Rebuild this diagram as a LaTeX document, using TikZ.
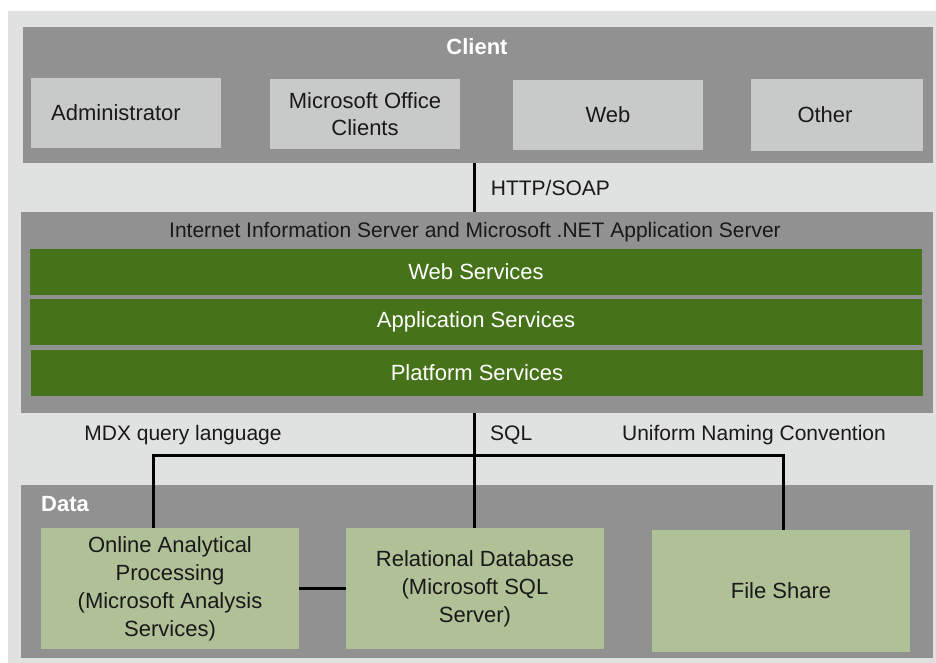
\documentclass[tikz,border=0pt]{standalone}
\usepackage{fontspec}
\setmainfont{Liberation Sans}
\usepackage{tikz}
\usetikzlibrary{positioning,calc}
\definecolor{bggray}{RGB}{224,225,225}
\definecolor{panelgray}{RGB}{145,145,145}
\definecolor{boxgray}{RGB}{200,201,201}
\definecolor{svcgreen}{RGB}{70,114,25}
\definecolor{datagreen}{RGB}{176,193,152}
\definecolor{txt}{RGB}{25,25,25}
\tikzset{
    % grey layer panels
    panel/.style={
           rectangle,
           fill=panelgray,
           inner sep=0pt},
    % boxes in the client layer
    clientbox/.style={
           rectangle,
           fill=boxgray,
           text=txt,
           align=center,
           minimum width=190pt,
           minimum height=70pt,
           font=\fontsize{22}{27}\selectfont},
    % green service bars
    svcbar/.style={
           rectangle,
           fill=svcgreen,
           text=white,
           minimum width=892pt,
           minimum height=46pt,
           font=\fontsize{22}{27}\selectfont},
    % boxes in the data layer
    databox/.style={
           rectangle,
           fill=datagreen,
           text=txt,
           align=center,
           minimum width=258pt,
           minimum height=121pt,
           font=\fontsize{22}{28}\selectfont},
    % panel titles
    head/.style={
           text=white,
           font=\fontsize{22}{27}\selectfont\bfseries},
    % connector labels
    lbl/.style={
           text=txt,
           font=\fontsize{21}{26}\selectfont},
    % connector lines
    pil/.style={
           draw=black,
           line width=3pt}
}
\begin{document}
\begin{tikzpicture}[x=1pt,y=-1pt]
\useasboundingbox (0,0) rectangle (936,663);
\fill[white] (0,0) rectangle (936,663);
\fill[bggray] (8,11) rectangle (936,663);

% client layer
\node[panel, minimum width=910pt, minimum height=136pt] (client) at (478,95) {};
\node[head] (clienthead) at (477,47) {Client};
\node[clientbox] (admin) at (126,113) {Administrator\hspace*{20pt}};
\node[clientbox] (office) at (365,114) {Microsoft Office\\Clients};
\node[clientbox] (web) at (608,115) {Web};
\node[clientbox, minimum width=172pt, minimum height=72pt] (other) at (837,115) {Other\hspace*{24pt}};

% application server layer
\node[panel, minimum width=912pt, minimum height=201pt] (iis) at (477,312.5) {};
\node[lbl] (iishead) at (475,232) {Internet Information Server and Microsoft .NET Application Server};
\node[svcbar] (websvc) at (476,272) {Web Services};
\node[svcbar] (appsvc) at (476,322) {Application Services};
\node[svcbar] (platsvc) at (477,373) {Platform Services};

% data layer
\node[panel, minimum width=912pt, minimum height=173pt] (data) at (477,571.5) {};
\node[head, anchor=west, inner sep=0pt] (datahead) at (41,504) {Data};
\node[databox] (olap) at (170,588.5) {Online Analytical\\Processing\\(Microsoft Analysis\\Services)};
\node[databox] (rdb) at (475,588.5) {Relational Database\\(Microsoft SQL\\Server)};
\node[databox, minimum height=122pt] (files) at (781,591) {File Share};

% connectors
\coordinate (bus) at (474,455);
\coordinate (mdx) at (153,455);
\coordinate (unc) at (783,455);
\draw[pil] (client.south -| bus) -- node[lbl, right=12pt] (http) {HTTP/SOAP} (iis.north -| bus);
\draw[pil] (iis.south -| bus) -- (rdb.north -| bus);
\draw[pil, line cap=rect] (mdx) -- (unc);
\draw[pil] (mdx) -- (olap.north -| mdx);
\draw[pil] (unc) -- (files.north -| unc);
\draw[pil] (olap.east) -- (olap.east -| rdb.west);

\node[lbl] (mdxlbl) at (183,435) {MDX query language};
\node[lbl, anchor=west, inner sep=0pt] (sqllbl) at (490,435) {SQL};
\node[lbl] (unclbl) at (754,435) {Uniform Naming Convention};
\end{tikzpicture}
\end{document}
